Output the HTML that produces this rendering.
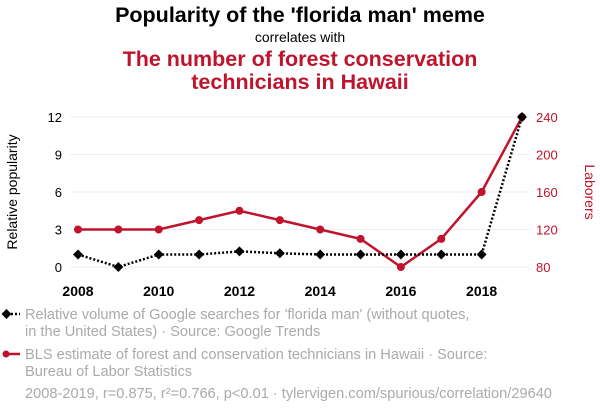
<!DOCTYPE html>
<html><head><meta charset="utf-8"><style>
body{margin:0;width:600px;height:414px;background:#fff;font-family:"Liberation Sans",sans-serif;overflow:hidden}
svg text{font-family:"Liberation Sans",sans-serif}
</style></head><body>
<svg width="600" height="414" id="c">
<text x="300" y="22" text-anchor="middle" font-size="21.5" font-weight="bold" fill="#000">Popularity of the 'florida man' meme</text>
<text x="300" y="42" text-anchor="middle" font-size="14" fill="#000">correlates with</text>
<text x="300" y="66" text-anchor="middle" font-size="21.5" font-weight="bold" fill="#c0142c">The number of forest conservation</text>
<text x="300" y="89" text-anchor="middle" font-size="21.5" font-weight="bold" fill="#c0142c">technicians in Hawaii</text>
<text transform="translate(17,192) rotate(-90)" text-anchor="middle" font-size="14" fill="#000">Relative popularity</text>
<text transform="translate(585,192) rotate(90)" text-anchor="middle" font-size="14" fill="#c0142c">Laborers</text>
<g id="grid"></g><g id="axes"></g><g id="marks"></g>
<g>
<line x1="3" y1="314" x2="20" y2="314" stroke="#000" stroke-width="2.5" stroke-dasharray="2,2"/>
<rect x="3" y="310.5" width="7" height="7" fill="#000" transform="rotate(45 6.5 314)"/>
<text x="25" y="319" font-size="14.6" fill="#aaa">Relative volume of Google searches for 'florida man' (without quotes,</text>
<text x="25" y="336" font-size="14.6" fill="#aaa">in the United States) · Source: Google Trends</text></g>
<g>
<line x1="3" y1="354" x2="20" y2="354" stroke="#c0142c" stroke-width="2.5"/>
<circle cx="6" cy="354" r="3.5" fill="#c0142c"/>
<text x="25" y="359" font-size="14.6" fill="#aaa">BLS estimate of forest and conservation technicians in Hawaii · Source:</text>
<text x="25" y="376" font-size="14.6" fill="#aaa">Bureau of Labor Statistics</text></g>
<text x="25" y="398" font-size="14.6" fill="#aaa">2008-2019, r=0.875, r²=0.766, p&lt;0.01 · tylervigen.com/spurious/correlation/29640</text>
</svg>
<script>
const years=[2008,2009,2010,2011,2012,2013,2014,2015,2016,2017,2018,2019];
const florida=[1,0,1,1,1.25,1.1,1,1,1,1,1,12];
const laborers=[120,120,120,130,140,130,120,110,80,110,160,240];
const leftTicks=[0,3,6,9,12];
const rightTicks=[80,120,160,200,240];
const xTicks=[2008,2010,2012,2014,2016,2018];
const NS="http://www.w3.org/2000/svg";
const x=v=>78+(v-2008)*(522-78)/11;
const yl=v=>267-v*150/12;
const yr=v=>267-(v-80)*150/160;
function mk(tag,attrs,parent){const e=document.createElementNS(NS,tag);for(const k in attrs)e.setAttribute(k,attrs[k]);document.getElementById(parent).appendChild(e);return e;}
leftTicks.forEach(t=>{
 const g=mk('line',{x1:70,x2:530,y1:yl(t),y2:yl(t),stroke:'#eee','stroke-width':1},'grid');
 
 
 const l=mk('text',{x:62,y:yl(t)+5,'text-anchor':'end','font-size':13,fill:'#000'},'axes');l.textContent=t;
 
 
});
rightTicks.forEach(t=>{
 const l=mk('text',{x:536,y:yr(t)+5,'font-size':13,fill:'#c0142c'},'axes');l.textContent=t;
 
 
});
xTicks.forEach(t=>{
 const l=mk('text',{x:x(t),y:296,'text-anchor':'middle','font-size':14,'font-weight':'bold',fill:'#000'},'axes');l.textContent=t;
 
 
});
const rl=mk('polyline',{points:years.map((y,i)=>x(y)+','+yr(laborers[i])).join(' '),fill:'none',stroke:'#c0142c','stroke-width':2.5},'marks');


years.forEach((y,i)=>{const c=mk('circle',{cx:x(y),cy:yr(laborers[i]),r:4,fill:'#c0142c'},'marks');
 
 });
const fl=mk('polyline',{points:years.map((y,i)=>x(y)+','+yl(florida[i])).join(' '),fill:'none',stroke:'#000','stroke-width':2.5,'stroke-dasharray':'2,2'},'marks');


years.forEach((y,i)=>{const cx=x(y),cy=yl(florida[i]);
 const d=mk('rect',{x:cx-3.5,y:cy-3.5,width:7,height:7,fill:'#000',transform:`rotate(45 ${cx} ${cy})`},'marks');
 
 });
</script>
</body></html>
